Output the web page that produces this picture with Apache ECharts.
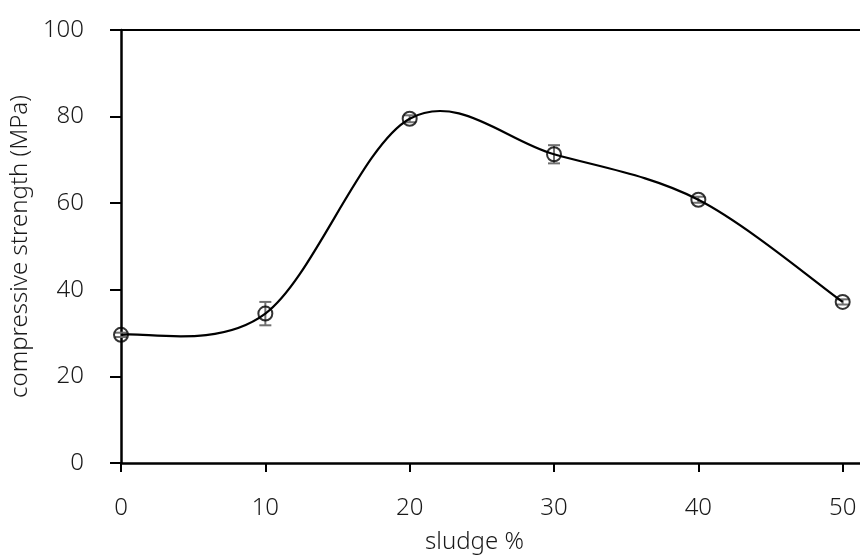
<!DOCTYPE html>
<html><head><meta charset="utf-8">
<script src="https://cdn.jsdelivr.net/npm/echarts@6/dist/echarts.min.js"></script>
<style>html,body{margin:0;padding:0;background:#fff}#c{width:860px;height:559px}</style>
</head><body><div id="c"></div>
<script>
const sludge = [0, 10, 20, 30, 40, 50];
const strength = [29.6, 34.5, 79.5, 71.3, 60.8, 37.2];
const errors = [0.5, 2.7, 0.8, 2.1, 0.7, 0.6];
const xTicks = [0, 10, 20, 30, 40, 50];
const yTicks = [0, 20, 40, 60, 80, 100];

const FONT = "'Noto Sans','Open Sans',sans-serif";
const TXT = { fontFamily: FONT, fontSize: 24, fontWeight: 300, color: '#1a1a1a' };
const chart = echarts.init(document.getElementById('c'));
const pts = sludge.map((x, i) => [x, strength[i]]);
const errData = sludge.map((x, i) => [x, strength[i] - errors[i], strength[i] + errors[i]]);

// smoothed curve through the data points (Catmull-Rom drawn as cubic Bezier in pixel space)
function renderCurve(params, api) {
  if (params.dataIndex !== 0) return null;
  const p = pts.map(d => api.coord(d));
  let d = 'M' + p[0][0] + ' ' + p[0][1];
  for (let i = 0; i < p.length - 1; i++) {
    const p0 = p[Math.max(i - 1, 0)], p1 = p[i], p2 = p[i + 1], p3 = p[Math.min(i + 2, p.length - 1)];
    const c1 = [p1[0] + (p2[0] - p0[0]) / 6, p1[1] + (p2[1] - p0[1]) / 6];
    const c2 = [p2[0] - (p3[0] - p1[0]) / 6, p2[1] - (p3[1] - p1[1]) / 6];
    d += ' C' + c1[0] + ' ' + c1[1] + ' ' + c2[0] + ' ' + c2[1] + ' ' + p2[0] + ' ' + p2[1];
  }
  return { type: 'path', shape: { pathData: d }, style: { fill: null, stroke: '#000', lineWidth: 2.2 } };
}

chart.setOption({
  animation: false,
  grid: { left: 121, right: 0, top: 30, bottom: 93, containLabel: false },
  xAxis: [{
    type: 'value', min: 0, max: 51.2,
    name: 'sludge %', nameLocation: 'middle', nameGap: 67,
    nameTextStyle: Object.assign({ padding: [0, 32, 0, 0] }, TXT),
    axisLine: { show: true, onZero: false, lineStyle: { color: '#000', width: 2.5 } },
    axisTick: { show: true, inside: false, length: 9, customValues: xTicks, lineStyle: { color: '#000', width: 2 } },
    axisLabel: Object.assign({ customValues: xTicks, margin: 33 }, TXT),
    splitLine: { show: false }
  }, {
    type: 'value', min: 0, max: 51.2, position: 'top',
    axisLine: { show: true, onZero: false, lineStyle: { color: '#000', width: 2 } },
    axisTick: { show: false }, axisLabel: { show: false }, splitLine: { show: false }
  }],
  yAxis: {
    type: 'value', min: 0, max: 100, interval: 20,
    name: 'compressive strength (MPa)', nameLocation: 'middle', nameGap: 84, nameRotate: 90,
    nameTextStyle: TXT,
    axisLine: { show: true, lineStyle: { color: '#000', width: 2.5 } },
    axisTick: { show: true, inside: false, length: 11, lineStyle: { color: '#000', width: 2 } },
    axisLabel: Object.assign({ margin: 37, formatter: v => yTicks.includes(v) ? String(v) : '' }, TXT),
    splitLine: { show: false }
  },
  series: [{
    type: 'custom',
    data: errData,
    z: 3,
    renderItem: function (params, api) {
      const x = api.value(0);
      const lo = api.coord([x, api.value(1)]);
      const hi = api.coord([x, api.value(2)]);
      const w = 6;
      const st = { stroke: '#707070', lineWidth: 2 };
      return { type: 'group', children: [
        { type: 'line', shape: { x1: lo[0], y1: lo[1], x2: hi[0], y2: hi[1] }, style: st },
        { type: 'line', shape: { x1: lo[0] - w, y1: lo[1], x2: lo[0] + w, y2: lo[1] }, style: st },
        { type: 'line', shape: { x1: hi[0] - w, y1: hi[1], x2: hi[0] + w, y2: hi[1] }, style: st }
      ]};
    }
  }, {
    type: 'custom',
    data: pts,
    z: 4,
    renderItem: renderCurve
  }, {
    type: 'scatter',
    data: pts,
    z: 5,
    symbol: 'circle', symbolSize: 14,
    itemStyle: { color: 'rgba(255,255,255,0)', borderColor: '#000', borderWidth: 2 }
  }]
});
</script></body></html>
